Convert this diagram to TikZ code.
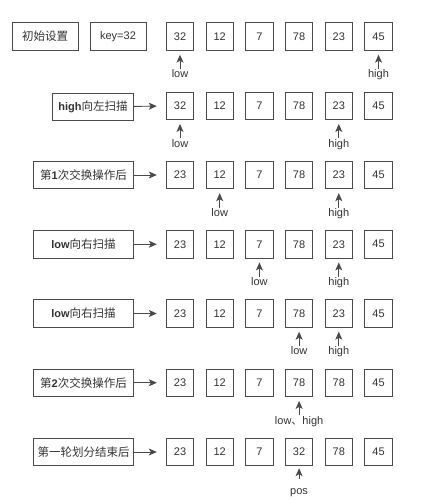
\documentclass[tikz,border=0pt]{standalone}
\usepackage{fontspec}
\setmainfont{Liberation Sans}
\newfontfamily\cjk{Noto Sans CJK SC}
\usetikzlibrary{arrows.meta,positioning}
\definecolor{qsLine}{HTML}{4a4a4a}
\definecolor{qsText}{HTML}{333333}
\newcommand\zh[1]{{\cjk\fontsize{11.5}{13}\selectfont #1}}
\tikzset{
  >={Stealth[length=8pt,width=7pt,inset=2pt]},
  cell/.style={draw=qsLine, line width=0.9pt, minimum width=27.5pt, minimum height=27.5pt,
              inner sep=0pt, text=qsText, font=\fontsize{11}{13}\selectfont},
  tag/.style={draw=qsLine, line width=0.9pt, minimum height=27.5pt, inner sep=1pt,
              text=qsText, font=\fontsize{11}{13}\selectfont},
  plbl/.style={inner sep=1pt, text height=7.5pt, text depth=2pt, text=qsText,
              font=\fontsize{11}{13}\selectfont},
  flow/.style={->, draw=qsLine, line width=0.9pt, shorten >=9pt},
  ptr/.style={->, draw=qsLine, line width=0.9pt, shorten >=4pt},
}
\begin{document}
\begin{tikzpicture}[x=1pt,y=-1pt]
  \useasboundingbox (0,0) rectangle (443,500);
  % array cells, one row per step
  \foreach \r/\vals in {1/{32,12,7,78,23,45},2/{32,12,7,78,23,45},3/{23,12,7,78,23,45},
                        4/{23,12,7,78,23,45},5/{23,12,7,78,23,45},6/{23,12,7,78,78,45},
                        7/{23,12,7,32,78,45}}{
    \foreach \v [count=\i from 0] in \vals{
      \node[cell] (c\r\i) at ({180+39.7*\i},{36.5+69.25*(\r-1)}) {\v};}}
  % first row: start values
  \node[tag,minimum width=66pt] (init) at (45,36.5) {\zh{初始设置}};
  \node[tag,minimum width=56pt] (key) at (118,36.5) {key=32};
  % step labels with arrow to the row
  \node[tag,minimum width=81pt,anchor=east] (s2) at (134,107) {\textbf{high}\zh{向左扫描}};
  \draw[flow] (s2) -- (c20);
  \foreach \r/\txt in {3/{\zh{第}\textbf{1}\zh{次交换操作后}},4/{\textbf{low}\zh{向右扫描}},
                       5/{\textbf{low}\zh{向右扫描}},6/{\zh{第}\textbf{2}\zh{次交换操作后}},
                       7/{\zh{第一轮划分结束后}}}{
    \node[tag,minimum width=100pt,anchor=east] (s\r) at (134,{36.5+69.25*(\r-1)}) {\txt};
    \draw[flow] (s\r) -- (c\r0);}
  % low / high pointers
  \foreach \r/\i/\p in {1/0/low,1/5/high,2/0/low,2/4/high,3/1/low,3/4/high,
                        4/2/low,4/4/high,5/3/low,5/4/high}{
    \node[plbl,below=18.5pt of c\r\i] (p\r\i) {\p};
    \draw[ptr] (p\r\i) -- (c\r\i);}
  \node[plbl,below=18.5pt of c63] (p63) {low{\cjk 、}high};
  \draw[ptr] (p63) -- (c63);
  \node[plbl,below=19.5pt of c73] (p73) {pos};
  \draw[ptr,shorten <=7pt,shorten >=2pt] (p73) -- (c73);
\end{tikzpicture}
\end{document}
